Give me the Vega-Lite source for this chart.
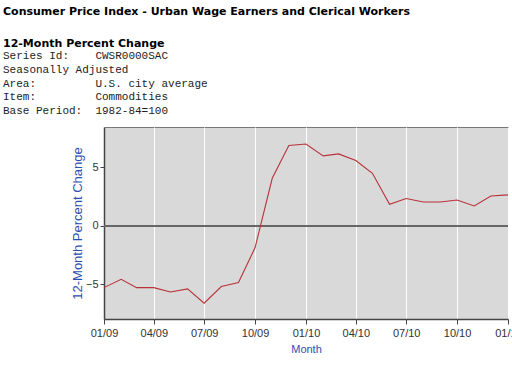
{
  "$schema": "https://vega.github.io/schema/vega-lite/v6.json",
  "autosize": {"type": "none"},
  "width": 404,
  "height": 192,
  "padding": {"left": 104, "top": 127, "right": 4, "bottom": 58},
  "background": "white",
  "title": {
    "text": ["Consumer Price Index - Urban Wage Earners and Clerical Workers", "12-Month Percent Change"],
    "subtitle": ["Series\u00a0Id:\u00a0\u00a0\u00a0\u00a0CWSR0000SAC", "Seasonally\u00a0Adjusted", "Area:\u00a0\u00a0\u00a0\u00a0\u00a0\u00a0\u00a0\u00a0\u00a0U.S.\u00a0city\u00a0average", "Item:\u00a0\u00a0\u00a0\u00a0\u00a0\u00a0\u00a0\u00a0\u00a0Commodities", "Base\u00a0Period:\u00a0\u00a01982-84=100"],
    "anchor": "start",
    "frame": "group",
    "dx": -101,
    "offset": 11,
    "font": "DejaVu Sans",
    "fontSize": 11,
    "fontWeight": "bold",
    "color": "#000000",
    "lineHeight": 32,
    "subtitleFont": "Liberation Mono",
    "subtitleFontSize": 11,
    "subtitleColor": "#222222",
    "subtitleLineHeight": 13.75,
    "subtitlePadding": 1
  },
  "data": {
    "values": [
      {"month": "2009-01-01", "value": -5.27},
      {"month": "2009-02-01", "value": -4.56},
      {"month": "2009-03-01", "value": -5.27},
      {"month": "2009-04-01", "value": -5.27},
      {"month": "2009-05-01", "value": -5.64},
      {"month": "2009-06-01", "value": -5.38},
      {"month": "2009-07-01", "value": -6.6},
      {"month": "2009-08-01", "value": -5.18},
      {"month": "2009-09-01", "value": -4.84},
      {"month": "2009-10-01", "value": -1.85},
      {"month": "2009-11-01", "value": 4.07},
      {"month": "2009-12-01", "value": 6.87},
      {"month": "2010-01-01", "value": 7.0},
      {"month": "2010-02-01", "value": 5.98},
      {"month": "2010-03-01", "value": 6.15},
      {"month": "2010-04-01", "value": 5.58},
      {"month": "2010-05-01", "value": 4.5},
      {"month": "2010-06-01", "value": 1.85},
      {"month": "2010-07-01", "value": 2.34},
      {"month": "2010-08-01", "value": 2.05},
      {"month": "2010-09-01", "value": 2.05},
      {"month": "2010-10-01", "value": 2.22},
      {"month": "2010-11-01", "value": 1.71},
      {"month": "2010-12-01", "value": 2.56},
      {"month": "2011-01-01", "value": 2.65}
    ]
  },
  "config": {
    "view": {"fill": "#d9d9d9", "stroke": "#777777", "strokeWidth": 1},
    "axis": {
      "labelFont": "Liberation Sans",
      "labelFontSize": 11,
      "labelColor": "#333333",
      "titleFont": "Liberation Sans",
      "titleFontSize": 11,
      "titleFontWeight": "normal",
      "titleColor": "#2b4fb0",
      "gridColor": "#ffffff",
      "gridWidth": 1,
      "gridOpacity": 1,
      "domainColor": "#444444",
      "domainWidth": 1.5,
      "tickColor": "#444444",
      "tickSize": 5
    }
  },
  "layer": [
    {
      "mark": {"type": "rule", "color": "#666666", "strokeWidth": 2},
      "encoding": {"y": {"datum": 0, "type": "quantitative"}}
    },
    {
      "mark": {"type": "line", "color": "#b8323a", "strokeWidth": 1.1},
      "encoding": {
        "x": {
          "field": "month",
          "type": "temporal",
          "scale": {"domain": [{"year": 2009, "month": 1, "date": 1}, {"year": 2011, "month": 1, "date": 1}], "nice": false},
          "axis": {
            "title": "Month",
            "format": "%m/%y",
            "values": [{"year": 2009, "month": 1, "date": 1}, {"year": 2009, "month": 4, "date": 1}, {"year": 2009, "month": 7, "date": 1}, {"year": 2009, "month": 10, "date": 1}, {"year": 2010, "month": 1, "date": 1}, {"year": 2010, "month": 4, "date": 1}, {"year": 2010, "month": 7, "date": 1}, {"year": 2010, "month": 10, "date": 1}, {"year": 2011, "month": 1, "date": 1}],
            "labelFlush": false,
            "labelOverlap": false,
            "labelPadding": 3,
            "titlePadding": 5
          }
        },
        "y": {
          "field": "value",
          "type": "quantitative",
          "scale": {"domain": [-7.95, 8.45], "nice": false, "zero": false},
          "axis": {
            "title": "12-Month Percent Change",
            "titleFontSize": 13,
            "values": [-5, 0, 5],
            "ticks": true,
            "tickSize": 4,
            "labelPadding": 2,
            "titlePadding": 1
          }
        }
      }
    }
  ]
}
